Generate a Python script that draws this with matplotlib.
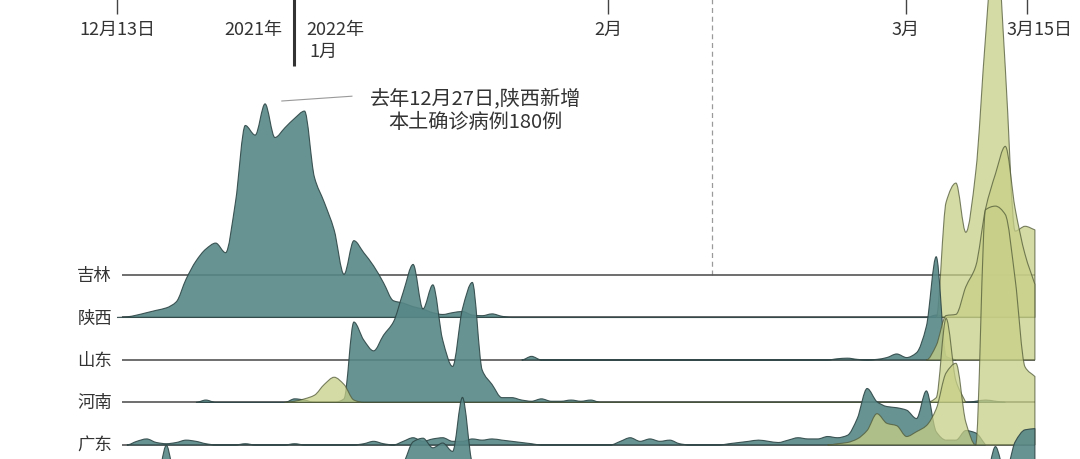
import numpy as np
import matplotlib
matplotlib.use('Agg')
import matplotlib.pyplot as plt
from matplotlib.path import Path
from matplotlib.patches import PathPatch

plt.rcParams['font.family'] = ['Noto Sans CJK SC', 'DejaVu Sans']

# day 0 = 12月13日, last day = 3月16日
days = np.arange(94)
provinces = ['吉林', '陕西', '山东', '河南', '广东', '天津']

# daily local cases, (start day, values) pieces; teal = 确诊, yellow = 无症状
jilin_conf = []
jilin_asym = []
shaanxi_conf = [(0, [0, 0.5, 2, 4, 6, 8, 13, 32, 47, 57, 62, 54, 96, 160, 152, 178,
                     150, 158, 166, 172, 117, 96, 73, 36, 64, 54, 43, 29, 14, 12, 9,
                     7, 4, 2.5, 4, 5, 2, 1.5, 3, 1, 0]),
                (82, [0, 2, 0])]
shaanxi_asym = [(83, [0, 96, 112, 71, 121, 234, 325, 208, 72, 76, 73])]
shandong_conf = [(41, [0, 3, 0]),
                 (72, [0, 1, 1.5, 0.5, 0, 0.5, 2, 5, 2, 6, 28, 86, 3, 0])]
shandong_asym = [(82, [0, 12, 37, 38, 61, 78, 126, 155, 178, 126, 88, 63])]
henan_conf = [(8, [0, 2, 0]), (17, [0, 3, 2, 0]),
              (22, [0, 3, 67, 52, 43, 56, 67, 92, 115, 78, 98, 52, 30, 78, 100,
                    27, 15, 4, 4, 2, 1, 3, 1, 1, 2, 1, 2, 0]),
              (86, [0, 1, 2, 1, 0])]
henan_asym = [(17, [0, 1, 3, 6, 15, 21, 15, 2, 0]), (82, [0, 4, 70, 18, 0])]
guangdong_conf = [(0, [0, 0, 3, 5, 2, 1, 2, 4, 3, 1, 0, 0, 0, 1, 0, 0, 0, 0, 1, 0, 0,
                       0, 0, 0, 0, 1, 3, 1, 0, 3, 6, 3, 5, 6, 3, 3, 5, 4, 5, 4, 3,
                       2, 1, 0]),
                  (50, [0, 3, 6, 3, 5, 3, 4, 1, 0, 0, 0, 0, 1, 2, 3, 4, 3, 2, 4, 6,
                        5, 5, 7, 6, 8, 22, 47, 36, 32, 31, 29, 22, 45, 11, 4, 4, 12,
                        10, 0])]
guangdong_asym = [(72, [0, 1, 2, 5, 12, 26, 18, 16, 7, 11, 16, 30, 60, 68, 19, 0,
                        196, 199, 192, 138, 65, 57])]
tianjin_conf = [(3, [0, 3, 35, 3, 0]),
                (26, [0, 5, 12, 20, 38, 41, 33, 37, 30, 75, 20, 8, 3, 0]),
                (87, [0, 5, 34, 12, 38, 48, 49])]
tianjin_asym = []

conf = [jilin_conf, shaanxi_conf, shandong_conf, henan_conf, guangdong_conf, tianjin_conf]
asym = [jilin_asym, shaanxi_asym, shandong_asym, henan_asym, guangdong_asym, tianjin_asym]

tick_labels = ['12月13日', '2月', '3月', '3月15日']
tick_days = [0, 49.75, 79.9, 92.2]
label_days = [0, 49.75, 79.9, 93.5]

TEAL = '#578787'
YELLOW = '#c7cf87'
ROW_GAP = 35.4


def series(parts):
    out = np.zeros(len(days))
    for start, vals in parts:
        out[start:start + len(vals)] = vals
    return out


def ridge_path(x, y, base):
    # monotone cubic through the daily values, drawn as bezier segments
    d = np.diff(y)
    m = np.zeros(len(y))
    for i in range(1, len(y) - 1):
        if d[i - 1] * d[i] > 0:
            m[i] = 2 * d[i - 1] * d[i] / (d[i - 1] + d[i])
    m[-1] = d[-1] if len(d) else 0
    verts = [(x[0], base), (x[0], base + y[0])]
    codes = [Path.MOVETO, Path.LINETO]
    for i in range(len(y) - 1):
        verts += [(x[i] + 1 / 3, base + y[i] + m[i] / 3),
                  (x[i + 1] - 1 / 3, base + y[i + 1] - m[i + 1] / 3),
                  (x[i + 1], base + y[i + 1])]
        codes += [Path.CURVE4] * 3
    verts += [(x[-1], base), (x[0], base)]
    codes += [Path.LINETO, Path.CLOSEPOLY]
    return Path(verts, codes)


def draw_ridge(ax, vals, base, color, alpha, edge, z):
    nz = np.nonzero(vals)[0]
    if len(nz) == 0:
        return
    lo = max(nz[0] - 1, 0)
    hi = min(nz[-1] + 1, len(vals) - 1)
    p = ridge_path(days[lo:hi + 1], vals[lo:hi + 1], base)
    ax.add_patch(PathPatch(p, facecolor=color, alpha=alpha, edgecolor=edge,
                           lw=0.8, zorder=z))


px_day = 9.87
fig = plt.figure(figsize=(10.8, 4.6), dpi=100)
ax = fig.add_axes([0, 0, 1, 1])
ax.set_xlim(-117 / px_day, (1080 - 117) / px_day)
ymin = -(460 - 276) / 1.2
ax.set_ylim(ymin, 276 / 1.2)
ax.axis('off')

for i, name in enumerate(provinces):
    base = -i * ROW_GAP
    z = 2 + i * 3
    ax.hlines(base, 0.5, days[-1], color='#555555', lw=1.2, zorder=z)
    if base - 8 > ymin:
        ax.text(-0.5, base, name, ha='right', va='center', fontsize=12.5,
                color='#333333')
    draw_ridge(ax, series(conf[i]), base, TEAL, 0.9, '#2e4646', z + 1)
    draw_ridge(ax, series(asym[i]), base, YELLOW, 0.75, '#4f5836', z + 2)

# top time axis
top = 276 / 1.2
ax.vlines(tick_days, top - 15 / 1.2, top, color='#444444', lw=1)
for d, lab in zip(label_days, tick_labels):
    ax.text(d, top - 30 / 1.2, lab, ha='center', va='center', fontsize=13,
            color='#333333', zorder=30)
year_day = (294 - 117) / px_day
ax.vlines(year_day, top - 67 / 1.2, top, color='#333333', lw=2.2)
ax.text(year_day - 1.2, top - 30 / 1.2, '2021年', ha='right', va='center',
        fontsize=13, color='#333333')
ax.text(year_day + 1.2, top - 30 / 1.2, '2022年', ha='left', va='center',
        fontsize=13, color='#333333')
ax.text(year_day + 1.6, top - 52 / 1.2, '1月', ha='left', va='center',
        fontsize=13, color='#333333')

ax.vlines((712 - 117) / px_day, 0, top, color='#9a9a9a', lw=0.9,
          linestyles=(0, (4, 3)), zorder=1)

# annotation
ax.plot([16.7, 23.8], [145, 149], color='#999999', lw=0.8)
ax.text(36.3, 138, '去年12月27日,陕西新增\n本土确诊病例180例', ha='center',
        va='center', fontsize=14.5, color='#333333', linespacing=1.2)

plt.savefig('out.png', dpi=100, facecolor='white')
